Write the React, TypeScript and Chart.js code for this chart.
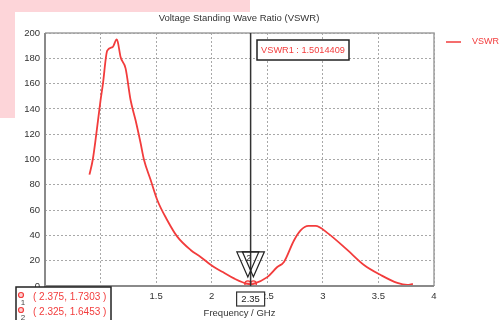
import { useEffect, useRef } from 'react';
import { Chart, registerables } from 'chart.js';

Chart.register(...registerables);

const FONT = '"Liberation Sans", Arial, sans-serif';
const RED = '#f23c3c';

const chartTitle = 'Voltage Standing Wave Ratio (VSWR)';
const seriesName = 'VSWR';
const xAxisTitle = 'Frequency / GHz';

const frequencies = [
  0.9, 0.93, 0.96, 1.0, 1.02, 1.06, 1.11, 1.145, 1.155, 1.18, 1.225, 1.27, 1.315, 1.36, 1.39,
  1.45, 1.51, 1.6, 1.69, 1.81, 1.9, 2.02, 2.1, 2.2, 2.325, 2.35, 2.375, 2.5, 2.59, 2.65, 2.74,
  2.8, 2.87, 2.935, 3.04, 3.22, 3.37, 3.52, 3.67, 3.76, 3.81,
];
const vswrValues = [
  88, 100, 119, 147, 159, 186, 189, 195, 193, 181, 172, 147, 131, 113, 100,
  84, 68, 52, 39, 28.5, 23, 15, 11, 6, 1.6453, 1.5014, 1.7303, 7, 15, 19, 36,
  44, 47.5, 47.5, 42, 28.5, 16.6, 8.7, 2.4, 0.8, 1.6,
];

const markerFreqs = [2.375, 2.325];
const markerValues = [1.7303, 1.6453];
const markerIds = ['1', '2'];
const cursorFreq = 2.35;
const cursorLabel = '2.35';
const cursorReadout = 'VSWR1 : 1.5014409';

const xMin = 0.5;
const xMax = 4;
const xStep = 0.5;
const yMin = 0;
const yMax = 200;
const yStep = 20;

const overlayPlugin = {
  id: 'overlay',
  afterDraw(chart: any) {
    const { ctx, chartArea: a, scales } = chart;
    const xs = scales.x;
    const ys = scales.y;
    ctx.save();

    // frame
    ctx.strokeStyle = '#a0a0a0';
    ctx.lineWidth = 1.5;
    ctx.beginPath();
    ctx.moveTo(a.left, a.top);
    ctx.lineTo(a.right, a.top);
    ctx.lineTo(a.right, a.bottom);
    ctx.stroke();
    ctx.strokeStyle = '#8a8a8a';
    ctx.lineWidth = 2;
    ctx.beginPath();
    ctx.moveTo(a.left, a.top);
    ctx.lineTo(a.left, a.bottom);
    ctx.lineTo(a.right, a.bottom);
    ctx.stroke();

    // title
    ctx.fillStyle = '#333';
    ctx.font = `9.5px ${FONT}`;
    ctx.textAlign = 'center';
    ctx.textBaseline = 'middle';
    ctx.fillText(chartTitle, 239, 18);

    // legend
    ctx.strokeStyle = RED;
    ctx.lineWidth = 1.5;
    ctx.beginPath();
    ctx.moveTo(446, 42);
    ctx.lineTo(461, 42);
    ctx.stroke();
    ctx.fillStyle = RED;
    ctx.textAlign = 'left';
    ctx.font = `9px ${FONT}`;
    ctx.fillText(seriesName, 472, 42);

    // cursor line
    const cx = xs.getPixelForValue(cursorFreq);
    ctx.strokeStyle = '#333';
    ctx.lineWidth = 1.5;
    ctx.beginPath();
    ctx.moveTo(cx, a.top);
    ctx.lineTo(cx, a.bottom);
    ctx.stroke();

    // triangles
    ctx.lineWidth = 1.2;
    ctx.strokeStyle = '#222';
    markerFreqs.forEach((f, i) => {
      const px = xs.getPixelForValue(f);
      const py = ys.getPixelForValue(markerValues[i]);
      const tipY = py - 7;
      ctx.beginPath();
      ctx.moveTo(px, tipY);
      ctx.lineTo(px - 11, tipY - 25);
      ctx.lineTo(px + 11, tipY - 25);
      ctx.closePath();
      ctx.stroke();
    });
    {
      const px = xs.getPixelForValue(markerFreqs[1]);
      const py = ys.getPixelForValue(markerValues[1]);
      ctx.fillStyle = '#333';
      ctx.font = `9px ${FONT}`;
      ctx.textAlign = 'center';
      ctx.fillText(markerIds[1], px + 1, py - 25);
    }

    // cursor label box on x axis
    ctx.font = `9.5px ${FONT}`;
    ctx.fillStyle = '#fff';
    ctx.fillRect(cx - 14, 292, 28, 14);
    ctx.strokeStyle = '#333';
    ctx.lineWidth = 1.2;
    ctx.strokeRect(cx - 14, 292, 28, 14);
    ctx.fillStyle = '#222';
    ctx.textAlign = 'center';
    ctx.fillText(cursorLabel, cx, 299.5);

    // readout box
    ctx.fillStyle = '#fff';
    ctx.fillRect(257, 40, 92, 20);
    ctx.strokeStyle = '#222';
    ctx.lineWidth = 1.5;
    ctx.strokeRect(257, 40, 92, 20);
    ctx.fillStyle = RED;
    ctx.textAlign = 'center';
    ctx.font = `9.2px ${FONT}`;
    ctx.fillText(cursorReadout, 303, 50);

    // bottom-left marker table
    ctx.fillStyle = '#fff';
    ctx.fillRect(16, 287, 95, 40);
    ctx.strokeStyle = '#222';
    ctx.lineWidth = 1.5;
    ctx.strokeRect(16, 287, 95, 40);
    markerFreqs.forEach((f, i) => {
      const rowY = 297 + i * 15;
      ctx.strokeStyle = RED;
      ctx.lineWidth = 1.2;
      ctx.fillStyle = '#ffd0d0';
      ctx.beginPath();
      ctx.arc(21, rowY - 2, 2.5, 0, Math.PI * 2);
      ctx.fill();
      ctx.stroke();
      ctx.fillStyle = '#444';
      ctx.font = `8px ${FONT}`;
      ctx.textAlign = 'center';
      ctx.fillText(markerIds[i], 23, rowY + 6);
      ctx.fillStyle = RED;
      ctx.font = `10px ${FONT}`;
      ctx.textAlign = 'left';
      ctx.fillText(`( ${f.toFixed(3)}, ${markerValues[i].toFixed(4)} )`, 33, rowY);
    });

    ctx.restore();
  },
};

export default function App() {
  const ref = useRef<HTMLCanvasElement | null>(null);

  useEffect(() => {
    if (!ref.current) return;
    const chart = new Chart(ref.current, {
      type: 'line',
      data: {
        datasets: [
          {
            label: seriesName,
            data: frequencies.map((f, i) => ({ x: f, y: vswrValues[i] })),
            borderColor: RED,
            borderWidth: 1.8,
            pointRadius: 0,
            cubicInterpolationMode: 'monotone',
            fill: false,
          },
          {
            label: 'markers',
            data: markerFreqs.map((f, i) => ({ x: f, y: markerValues[i] })),
            showLine: false,
            pointRadius: 3,
            pointBorderWidth: 1.3,
            borderColor: RED,
            backgroundColor: '#ffd0d0',
          },
        ],
      },
      options: {
        animation: false,
        responsive: false,
        maintainAspectRatio: false,
        layout: { padding: { top: 33, right: 65, left: 0, bottom: 0 } },
        plugins: {
          legend: { display: false },
          title: { display: false },
          tooltip: { enabled: false },
        },
        scales: {
          x: {
            type: 'linear',
            min: xMin,
            max: xMax,
            ticks: {
              stepSize: xStep,
              color: '#333',
              font: { family: FONT, size: 9.5 },
              padding: 5,
              maxRotation: 0,
              autoSkip: false,
              callback: (v: any) => `${Number(v)}`,
            },
            grid: { color: '#a8a8a8', lineWidth: 1, drawTicks: false },
            border: { display: false, dash: [2, 2] },
            title: {
              display: true,
              text: xAxisTitle,
              color: '#333',
              font: { family: FONT, size: 9.5 },
              padding: { top: 0, bottom: 1 },
            },
            afterFit: (s: any) => {
              s.height = 34;
            },
          },
          y: {
            min: yMin,
            max: yMax,
            ticks: {
              stepSize: yStep,
              color: '#333',
              font: { family: FONT, size: 9.5 },
              padding: 5,
            },
            grid: { color: '#a8a8a8', lineWidth: 1, drawTicks: false },
            border: { display: false, dash: [2, 2] },
            afterFit: (s: any) => {
              s.width = 45;
            },
          },
        },
      },
      plugins: [overlayPlugin],
    } as any);
    return () => chart.destroy();
  }, []);

  return (
    <div style={{ position: 'fixed', left: 0, top: 0, width: 499, height: 320, background: '#fff', overflow: 'hidden' }}>
      <div style={{ position: 'absolute', left: 0, top: 0, width: 250, height: 118, background: '#fdd5d9' }} />
      <div style={{ position: 'absolute', left: 15, top: 12, width: 484, height: 308, background: '#fff' }} />
      <canvas ref={ref} width={499} height={320} style={{ position: 'absolute', left: 0, top: 0 }} />
    </div>
  );
}
